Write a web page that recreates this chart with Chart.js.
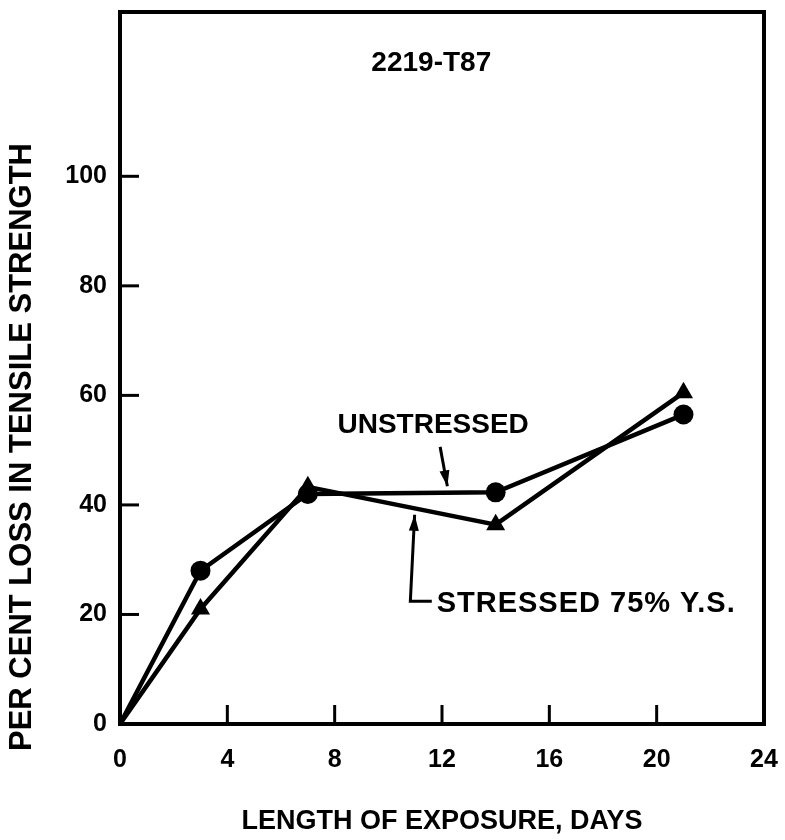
<!DOCTYPE html>
<html>
<head>
<meta charset="utf-8">
<script src="https://cdn.jsdelivr.net/npm/chart.js@4/dist/chart.umd.min.js"></script>
<style>
  html, body { margin: 0; padding: 0; background: #fff; }
  #wrap { width: 785px; height: 840px; }
</style>
</head>
<body>
<div id="wrap"><canvas id="c" width="785" height="840"></canvas></div>
<script>
// Exposure time (days) and per-cent loss in tensile strength, alloy 2219-T87
const days = [0, 3, 7, 14, 21];
const unstressedLoss = [0, 28, 42, 42.3, 56.5];
const stressedLoss = [0, 21, 43.3, 36.4, 60.5];

const xTickValues = [0, 4, 8, 12, 16, 20, 24];
const yTickValues = [0, 20, 40, 60, 80, 100];

const FONT = '"Liberation Sans", Arial, sans-serif';
const INK = '#000';

const toPoints = (xs, ys) => xs.map((x, i) => ({ x, y: ys[i] }));

// Frame, inward tick marks, y-axis title and the labelled arrows
const decorations = {
  id: 'decorations',
  afterDraw(chart) {
    const { ctx, chartArea: a, scales: { x, y } } = chart;
    ctx.save();
    ctx.strokeStyle = INK;
    ctx.fillStyle = INK;
    ctx.lineCap = 'square';

    // plot frame
    ctx.lineWidth = 4;
    ctx.strokeRect(a.left, a.top, a.right - a.left, a.bottom - a.top);

    // inward ticks
    ctx.lineWidth = 3;
    ctx.lineCap = 'butt';
    xTickValues.filter(v => v > 0 && v < 24).forEach(v => {
      const px = x.getPixelForValue(v);
      ctx.beginPath(); ctx.moveTo(px, a.bottom); ctx.lineTo(px, a.bottom - 19); ctx.stroke();
    });
    yTickValues.filter(v => v > 0).forEach(v => {
      const py = y.getPixelForValue(v);
      ctx.beginPath(); ctx.moveTo(a.left, py); ctx.lineTo(a.left + 19, py); ctx.stroke();
    });

    // y-axis title
    ctx.save();
    ctx.translate(22, 447);
    ctx.rotate(-Math.PI / 2);
    ctx.font = 'bold 31px ' + FONT;
    ctx.textAlign = 'center';
    ctx.textBaseline = 'middle';
    ctx.fillText('PER CENT LOSS IN TENSILE STRENGTH', 0, 0);
    ctx.restore();

    const P = (dx, dy) => [x.getPixelForValue(dx), y.getPixelForValue(dy)];
    const arrow = (pts) => {
      ctx.lineWidth = 3;
      ctx.beginPath();
      ctx.moveTo(...pts[0]);
      for (let i = 1; i < pts.length; i++) ctx.lineTo(...pts[i]);
      ctx.stroke();
      const [x1, y1] = pts[pts.length - 2];
      const [x2, y2] = pts[pts.length - 1];
      const ang = Math.atan2(y2 - y1, x2 - x1);
      const len = 16, half = 5;
      ctx.beginPath();
      ctx.moveTo(x2, y2);
      ctx.lineTo(x2 - len * Math.cos(ang) + half * Math.sin(ang), y2 - len * Math.sin(ang) - half * Math.cos(ang));
      ctx.lineTo(x2 - len * Math.cos(ang) - half * Math.sin(ang), y2 - len * Math.sin(ang) + half * Math.cos(ang));
      ctx.closePath();
      ctx.fill();
    };

    // labels
    ctx.textBaseline = 'middle';
    ctx.font = 'bold 28px ' + FONT;
    ctx.textAlign = 'center';
    ctx.fillText('2219-T87', ...P(11.6, 120.6));

    ctx.fillText('UNSTRESSED', ...P(11.67, 54.5));
    arrow([P(11.93, 50.6), P(12.2, 43.4)]);

    ctx.textAlign = 'left';
    ctx.font = 'bold 29px ' + FONT;
    ctx.letterSpacing = '1px';
    ctx.fillText('STRESSED 75% Y.S.', ...P(11.8, 22.0));
    ctx.letterSpacing = '0px';
    arrow([P(11.62, 22.4), P(10.82, 22.4), P(10.98, 38.2)]);

    ctx.restore();
  }
};

new Chart(document.getElementById('c'), {
  type: 'scatter',
  data: {
    datasets: [
      {
        label: 'Unstressed',
        data: toPoints(days, unstressedLoss),
        showLine: true,
        borderColor: INK,
        backgroundColor: INK,
        borderWidth: 4.5,
        pointStyle: 'circle',
        pointRadius: [0, 10, 10, 10, 10],
        pointBorderWidth: 0
      },
      {
        label: 'Stressed 75% Y.S.',
        data: toPoints(days, stressedLoss),
        showLine: true,
        borderColor: INK,
        backgroundColor: INK,
        borderWidth: 4.5,
        pointStyle: 'triangle',
        pointRadius: [0, 11, 11, 11, 11],
        pointBorderWidth: 0
      }
    ]
  },
  options: {
    responsive: false,
    animation: false,
    devicePixelRatio: 1,
    layout: { padding: { left: 0, top: 12, right: 21, bottom: 0 } },
    plugins: { legend: { display: false }, tooltip: { enabled: false } },
    scales: {
      x: {
        type: 'linear',
        min: 0,
        max: 24,
        afterBuildTicks: s => { s.ticks = xTickValues.map(v => ({ value: v })); },
        afterFit: s => { s.height = 116; s.paddingLeft = 0; s.paddingRight = 0; },
        grid: { display: false, drawTicks: false },
        border: { display: false },
        ticks: { color: INK, font: { family: FONT, size: 25, weight: 'bold' }, padding: 21, maxRotation: 0 },
        title: {
          display: true,
          text: 'LENGTH OF EXPOSURE, DAYS',
          color: INK,
          font: { family: FONT, size: 27, weight: 'bold' },
          padding: { top: 0, bottom: 2 }
        }
      },
      y: {
        type: 'linear',
        min: 0,
        max: 130,
        afterBuildTicks: s => { s.ticks = yTickValues.map(v => ({ value: v })); },
        afterFit: s => { s.width = 120; s.paddingTop = 0; s.paddingBottom = 0; },
        grid: { display: false, drawTicks: false },
        border: { display: false },
        ticks: { color: INK, font: { family: FONT, size: 25, weight: 'bold' }, padding: 13 }
      }
    }
  },
  plugins: [decorations]
});
</script>
</body>
</html>
